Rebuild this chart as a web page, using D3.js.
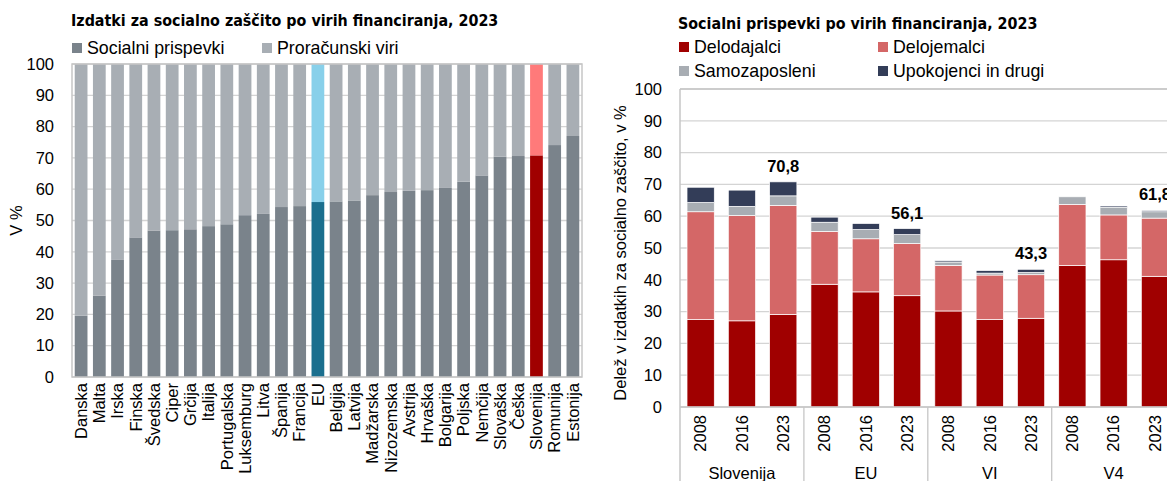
<!DOCTYPE html>
<html>
<head>
<meta charset="utf-8">
<script src="https://cdn.jsdelivr.net/npm/d3@7"></script>
<style>
  html, body { margin: 0; padding: 0; background: #fff; }
  svg { display: block; }
  text { font-family: "Liberation Sans", Arial, sans-serif; fill: #000; }
  .title { font-family: "Liberation Sans Narrow", "DejaVu Sans Condensed", sans-serif; font-weight: bold; font-size: 15.9px; }
</style>
</head>
<body>
<svg id="chart" width="1167" height="481"></svg>
<script>
// ---- Left panel: expenditure on social protection by financing source, 2023 ----
const countries = ["Danska","Malta","Irska","Finska","Švedska","Ciper","Grčija","Italija","Portugalska","Luksemburg","Litva","Španija","Francija","EU","Belgija","Latvija","Madžarska","Nizozemska","Avstrija","Hrvaška","Bolgarija","Poljska","Nemčija","Slovaška","Češka","Slovenija","Romunija","Estonija"];
const socialContributions = [19.6,26.0,37.4,44.6,46.8,46.9,47.2,48.2,48.8,51.7,52.1,54.3,54.6,55.9,56.1,56.4,58.1,59.1,59.5,59.7,60.4,62.4,64.4,70.4,70.6,70.8,74.1,77.0];
const budgetSources = [80.4,74.0,62.6,55.4,53.2,53.1,52.8,51.8,51.2,48.3,47.9,45.7,45.4,44.1,43.9,43.6,41.9,40.9,40.5,40.3,39.6,37.6,35.6,29.6,29.4,29.2,25.9,23.0];
const leftSeries = ["Socialni prispevki","Proračunski viri"];
const leftTicks = [0,10,20,30,40,50,60,70,80,90,100];

// ---- Right panel: social contributions by payer ----
const regions = ["Slovenija","EU","VI","V4"];
const years = ["2008","2016","2023"];
const employers    = [27.5,27.1,29.1, 38.6,36.2,35.0, 30.2,27.5,27.9, 44.5,46.3,41.1];
const employees    = [33.9,33.1,34.3, 16.6,16.7,16.4, 14.3,14.0,13.7, 19.2,14.1,18.3];
const selfEmployed = [2.9,2.9,3.0, 2.9,2.9,2.8, 1.1,0.6,0.7, 2.4,2.4,2.0];
const pensioners   = [4.8,5.1,4.4, 1.6,1.9,1.9, 0.4,0.8,1.0, 0.0,0.4,0.4];
const rightSeries = ["Delodajalci","Delojemalci","Samozaposleni","Upokojenci in drugi"];
const rightTicks = [0,10,20,30,40,50,60,70,80,90,100];

const svg = d3.select("#chart");
const gridColor = "#d4d4d4";
const borderColor = "#c6c6c6";
const fmt = v => d3.format(".1f")(v).replace(".", ",");

// ================= LEFT =================
{
  const m = {left: 72, right: 582, top: 64, bottom: 377};
  const x = d3.scaleBand().domain(countries).range([m.left, m.right]).paddingInner(0.3).paddingOuter(0.15);
  const y = d3.scaleLinear().domain([0, 100]).range([m.bottom, m.top]);

  const palette = c => c === "EU" ? ["#1b6f8e", "#88d0ea"]
                    : c === "Slovenija" ? ["#a00000", "#ff7a7a"]
                    : ["#7a838b", "#a8aeb4"];

  // gridlines
  svg.append("g").selectAll("line").data(leftTicks).join("line")
    .attr("x1", m.left).attr("x2", m.right)
    .attr("y1", d => y(d)).attr("y2", d => y(d))
    .attr("stroke", gridColor).attr("stroke-width", 1.3);

  const rows = countries.map((c, i) => ({c, s: socialContributions[i], b: budgetSources[i]}));
  const g = svg.append("g");
  g.selectAll("rect.s").data(rows).join("rect").attr("class", "s")
    .attr("x", d => x(d.c)).attr("width", x.bandwidth())
    .attr("y", d => y(d.s)).attr("height", d => y(0) - y(d.s))
    .attr("fill", d => palette(d.c)[0]);
  g.selectAll("rect.b").data(rows).join("rect").attr("class", "b")
    .attr("x", d => x(d.c)).attr("width", x.bandwidth())
    .attr("y", d => y(d.s + d.b)).attr("height", d => y(d.s) - y(d.s + d.b))
    .attr("fill", d => palette(d.c)[1]);

  // plot border
  svg.append("rect").attr("x", m.left).attr("y", m.top)
    .attr("width", m.right - m.left).attr("height", m.bottom - m.top)
    .attr("fill", "none").attr("stroke", borderColor).attr("stroke-width", 1.5);

  // y axis
  const ya = svg.append("g").attr("transform", `translate(${m.left},0)`)
    .call(d3.axisLeft(y).tickValues(leftTicks).tickSize(0).tickPadding(18));
  ya.select(".domain").remove();
  ya.selectAll("text").style("font-size", "16.5px").style("font-family", "Liberation Sans, Arial, sans-serif").attr("fill", "#000");

  // x axis (rotated labels)
  const xa = svg.append("g").attr("transform", `translate(0,${m.bottom})`)
    .call(d3.axisBottom(x).tickSize(0));
  xa.select(".domain").remove();
  xa.selectAll("text")
    .style("font-size", "16.5px").style("font-family", "Liberation Sans, Arial, sans-serif").attr("fill", "#000")
    .attr("transform", "rotate(-90)")
    .attr("text-anchor", "end")
    .attr("x", -6).attr("y", 0).attr("dy", "0.35em");

  // y title
  svg.append("text").attr("transform", `translate(22,${(m.top + m.bottom) / 2}) rotate(-90)`)
    .attr("text-anchor", "middle").style("font-size", "16.5px").text("V %");

  // title
  svg.append("text").attr("class", "title").attr("x", 71).attr("y", 26)
    .text("Izdatki za socialno zaščito po virih financiranja, 2023");

  // legend
  const legX = [72, 262];
  const legColors = ["#7a838b", "#a8aeb4"];
  leftSeries.forEach((s, i) => {
    svg.append("rect").attr("x", legX[i]).attr("y", 43).attr("width", 10).attr("height", 10).attr("fill", legColors[i]);
    svg.append("text").attr("x", legX[i] + 15).attr("y", 48).attr("dy", "0.35em")
      .style("font-size", "17.8px").text(s);
  });
}

// ================= RIGHT =================
{
  const keys = regions.flatMap(r => years.map(yr => r + "|" + yr));
  const m = {left: 680, top: 89, bottom: 407};
  const band = 41.3;
  const x = d3.scaleBand().domain(keys).range([m.left, m.left + band * keys.length]).paddingInner(0.34).paddingOuter(0.17);
  const y = d3.scaleLinear().domain([0, 100]).range([m.bottom, m.top]);
  const right = m.left + band * keys.length;

  svg.append("g").selectAll("line").data(rightTicks).join("line")
    .attr("x1", m.left).attr("x2", right)
    .attr("y1", d => y(d)).attr("y2", d => y(d))
    .attr("stroke", gridColor).attr("stroke-width", 1.3);

  const table = keys.map((k, i) => ({
    key: k,
    "Delodajalci": employers[i],
    "Delojemalci": employees[i],
    "Samozaposleni": selfEmployed[i],
    "Upokojenci in drugi": pensioners[i]
  }));
  const stacked = d3.stack().keys(rightSeries)(table);
  const colors = d3.scaleOrdinal().domain(rightSeries).range(["#a00000", "#d46767", "#a8adb3", "#333d58"]);

  svg.append("g").selectAll("g").data(stacked).join("g")
    .attr("fill", d => colors(d.key))
    .selectAll("rect").data(d => d).join("rect")
      .attr("x", d => x(d.data.key)).attr("width", x.bandwidth())
      .attr("y", d => y(d[1])).attr("height", d => Math.max(0, y(d[0]) - y(d[1])))
      .attr("stroke", "#fff").attr("stroke-width", d => (d[1] - d[0]) > 0 ? 0.7 : 0);

  // totals on the 2023 bars
  const totals = table.filter(d => d.key.endsWith("2023"))
    .map(d => ({key: d.key, v: rightSeries.reduce((a, s) => a + d[s], 0)}));
  svg.append("g").selectAll("text").data(totals).join("text")
    .attr("x", d => x(d.key) + x.bandwidth() / 2)
    .attr("y", d => y(d.v) - 10)
    .attr("text-anchor", "middle")
    .style("font-weight", "bold").style("font-size", "16.5px")
    .text(d => fmt(d.v));

  // plot frame (top, left, bottom)
  svg.append("line").attr("x1", m.left).attr("x2", right).attr("y1", m.top).attr("y2", m.top)
    .attr("stroke", borderColor).attr("stroke-width", 1.5);
  svg.append("line").attr("x1", m.left).attr("x2", m.left).attr("y1", m.top).attr("y2", 481)
    .attr("stroke", borderColor).attr("stroke-width", 1.5);
  svg.append("line").attr("x1", m.left).attr("x2", right).attr("y1", m.bottom).attr("y2", m.bottom)
    .attr("stroke", borderColor).attr("stroke-width", 1.5);

  // group separators
  regions.forEach((r, i) => {
    if (i === 0) return;
    const xs = x(r + "|2008") - x.step() * x.paddingInner() / 2;
    svg.append("line").attr("x1", xs).attr("x2", xs).attr("y1", m.bottom).attr("y2", 481)
      .attr("stroke", borderColor).attr("stroke-width", 1.3);
  });

  // y axis
  const ya = svg.append("g").attr("transform", `translate(${m.left},0)`)
    .call(d3.axisLeft(y).tickValues(rightTicks).tickSize(0).tickPadding(18));
  ya.select(".domain").remove();
  ya.selectAll("text").style("font-size", "16.5px").style("font-family", "Liberation Sans, Arial, sans-serif").attr("fill", "#000");

  // year labels
  svg.append("g").selectAll("text").data(keys).join("text")
    .attr("transform", d => `translate(${x(d) + x.bandwidth() / 2},${m.bottom + 8}) rotate(-90)`)
    .attr("text-anchor", "end").attr("dy", "0.35em")
    .style("font-size", "16.5px")
    .text(d => d.split("|")[1]);

  // region labels
  regions.forEach(r => {
    const x0 = x(r + "|2008"), x1 = x(r + "|2023") + x.bandwidth();
    svg.append("text").attr("x", (x0 + x1) / 2).attr("y", 473).attr("dy", "0.35em")
      .attr("text-anchor", "middle").style("font-size", "16.5px").text(r);
  });

  // y title
  svg.append("text").attr("transform", `translate(620,${(m.top + m.bottom) / 2 + 5}) rotate(-90)`)
    .attr("text-anchor", "middle").attr("dy", "0.35em").style("font-size", "16.5px")
    .text("Delež v izdatkih za socialno zaščito, v %");

  // title
  svg.append("text").attr("class", "title").attr("x", 678).attr("y", 29)
    .text("Socialni prispevki po virih financiranja, 2023");

  // legend (2 x 2)
  const legPos = [[679, 47], [878, 47], [679, 71], [878, 71]];
  rightSeries.forEach((s, i) => {
    const [lx, ly] = legPos[i];
    svg.append("rect").attr("x", lx).attr("y", ly - 5).attr("width", 10).attr("height", 10).attr("fill", colors(s));
    svg.append("text").attr("x", lx + 15).attr("y", ly).attr("dy", "0.35em")
      .style("font-size", "17.8px").text(s);
  });
}
</script>
</body>
</html>
